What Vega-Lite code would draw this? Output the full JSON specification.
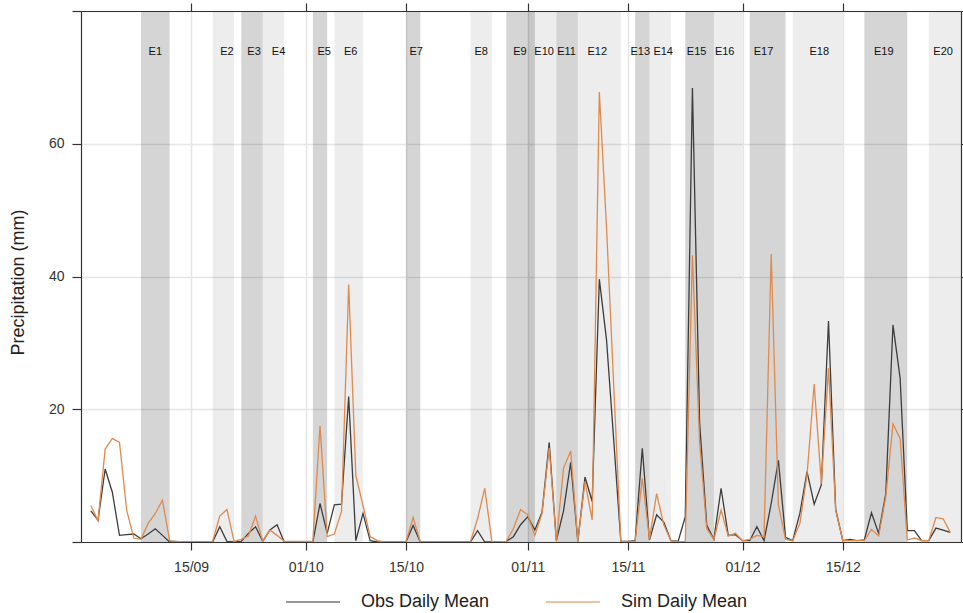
{
  "$schema": "https://vega.github.io/schema/vega-lite/v6.json",
  "width": 880,
  "height": 531,
  "autosize": {"type": "none"},
  "padding": {"left": 81, "top": 11, "right": 2, "bottom": 71},
  "config": {
    "view": {"stroke": null},
    "font": "Liberation Sans",
    "axis": {"domainColor": "#333333", "tickColor": "#333333", "labelColor": "#333333", "labelFont": "Liberation Sans", "titleFont": "Liberation Sans"}
  },
  "datasets": {
    "events": [
      {"event": "E1", "kind": "dark", "start": "2019-09-08", "end": "2019-09-12", "mid": "2019-09-10T00:00:00Z"},
      {"event": "E2", "kind": "light", "start": "2019-09-18", "end": "2019-09-21", "mid": "2019-09-20T00:00:00Z"},
      {"event": "E3", "kind": "dark", "start": "2019-09-22", "end": "2019-09-25", "mid": "2019-09-23T19:00:00Z"},
      {"event": "E4", "kind": "light", "start": "2019-09-25", "end": "2019-09-28", "mid": "2019-09-27T05:00:00Z"},
      {"event": "E5", "kind": "dark", "start": "2019-10-02", "end": "2019-10-04", "mid": "2019-10-03T14:00:00Z"},
      {"event": "E6", "kind": "light", "start": "2019-10-05", "end": "2019-10-09", "mid": "2019-10-07T07:00:00Z"},
      {"event": "E7", "kind": "dark", "start": "2019-10-15", "end": "2019-10-17", "mid": "2019-10-16T10:00:00Z"},
      {"event": "E8", "kind": "light", "start": "2019-10-24", "end": "2019-10-27", "mid": "2019-10-25T12:00:00Z"},
      {"event": "E9", "kind": "dark", "start": "2019-10-29", "end": "2019-11-02", "mid": "2019-10-30T22:00:00Z"},
      {"event": "E10", "kind": "light", "start": "2019-11-01", "end": "2019-11-05", "mid": "2019-11-03T07:00:00Z"},
      {"event": "E11", "kind": "dark", "start": "2019-11-05", "end": "2019-11-08", "mid": "2019-11-06T10:00:00Z"},
      {"event": "E12", "kind": "light", "start": "2019-11-08", "end": "2019-11-14", "mid": "2019-11-10T17:00:00Z"},
      {"event": "E13", "kind": "dark", "start": "2019-11-16", "end": "2019-11-18", "mid": "2019-11-16T17:00:00Z"},
      {"event": "E14", "kind": "light", "start": "2019-11-18", "end": "2019-11-21", "mid": "2019-11-19T22:00:00Z"},
      {"event": "E15", "kind": "dark", "start": "2019-11-23", "end": "2019-11-27", "mid": "2019-11-24T14:00:00Z"},
      {"event": "E16", "kind": "light", "start": "2019-11-27", "end": "2019-12-01", "mid": "2019-11-28T12:00:00Z"},
      {"event": "E17", "kind": "dark", "start": "2019-12-02", "end": "2019-12-07", "mid": "2019-12-03T22:00:00Z"},
      {"event": "E18", "kind": "light", "start": "2019-12-08", "end": "2019-12-15", "mid": "2019-12-11T17:00:00Z"},
      {"event": "E19", "kind": "dark", "start": "2019-12-18", "end": "2019-12-24", "mid": "2019-12-20T17:00:00Z"},
      {"event": "E20", "kind": "light", "start": "2019-12-27", "end": "2019-12-31T12:00:00Z", "mid": "2019-12-29T00:00:00Z"}
    ],
    "daily": [
      {"date": "2019-09-01", "obs": 4.7, "sim": 5.5},
      {"date": "2019-09-02", "obs": 3.3, "sim": 3.2},
      {"date": "2019-09-03", "obs": 11.0, "sim": 14.0},
      {"date": "2019-09-04", "obs": 7.5, "sim": 15.6},
      {"date": "2019-09-05", "obs": 1.0, "sim": 15.0},
      {"date": "2019-09-06", "obs": 1.1, "sim": 4.8},
      {"date": "2019-09-07", "obs": 1.2, "sim": 0.6},
      {"date": "2019-09-08", "obs": 0.5, "sim": 0.4},
      {"date": "2019-09-09", "obs": 1.2, "sim": 2.8},
      {"date": "2019-09-10", "obs": 2.0, "sim": 4.3},
      {"date": "2019-09-11", "obs": 1.0, "sim": 6.3},
      {"date": "2019-09-12", "obs": 0.0, "sim": 0.2},
      {"date": "2019-09-13", "obs": 0.0, "sim": 0.1},
      {"date": "2019-09-14", "obs": 0.0, "sim": 0.0},
      {"date": "2019-09-15", "obs": 0.0, "sim": 0.0},
      {"date": "2019-09-16", "obs": 0.0, "sim": 0.0},
      {"date": "2019-09-17", "obs": 0.0, "sim": 0.0},
      {"date": "2019-09-18", "obs": 0.0, "sim": 0.1},
      {"date": "2019-09-19", "obs": 2.3, "sim": 3.9},
      {"date": "2019-09-20", "obs": 0.1, "sim": 4.9},
      {"date": "2019-09-21", "obs": 0.0, "sim": 0.1},
      {"date": "2019-09-22", "obs": 0.1, "sim": 0.4},
      {"date": "2019-09-23", "obs": 1.3, "sim": 0.9},
      {"date": "2019-09-24", "obs": 2.3, "sim": 3.9},
      {"date": "2019-09-25", "obs": 0.1, "sim": 0.1},
      {"date": "2019-09-26", "obs": 1.8, "sim": 1.8},
      {"date": "2019-09-27", "obs": 2.6, "sim": 1.0},
      {"date": "2019-09-28", "obs": 0.0, "sim": 0.1},
      {"date": "2019-09-29", "obs": 0.0, "sim": 0.1},
      {"date": "2019-09-30", "obs": 0.0, "sim": 0.1},
      {"date": "2019-10-01", "obs": 0.0, "sim": 0.1},
      {"date": "2019-10-02", "obs": 0.0, "sim": 0.1},
      {"date": "2019-10-03", "obs": 5.8, "sim": 17.5},
      {"date": "2019-10-04", "obs": 1.3, "sim": 0.8},
      {"date": "2019-10-05", "obs": 5.6, "sim": 1.2},
      {"date": "2019-10-06", "obs": 5.7, "sim": 4.6},
      {"date": "2019-10-07", "obs": 21.9, "sim": 38.8},
      {"date": "2019-10-08", "obs": 0.2, "sim": 10.0},
      {"date": "2019-10-09", "obs": 4.3, "sim": 5.5},
      {"date": "2019-10-10", "obs": 0.2, "sim": 0.8},
      {"date": "2019-10-11", "obs": 0.0, "sim": 0.2},
      {"date": "2019-10-12", "obs": 0.0, "sim": 0.0},
      {"date": "2019-10-13", "obs": 0.0, "sim": 0.0},
      {"date": "2019-10-14", "obs": 0.0, "sim": 0.0},
      {"date": "2019-10-15", "obs": 0.0, "sim": 0.0},
      {"date": "2019-10-16", "obs": 2.5, "sim": 3.7},
      {"date": "2019-10-17", "obs": 0.0, "sim": 0.0},
      {"date": "2019-10-18", "obs": 0.0, "sim": 0.0},
      {"date": "2019-10-19", "obs": 0.0, "sim": 0.0},
      {"date": "2019-10-20", "obs": 0.0, "sim": 0.0},
      {"date": "2019-10-21", "obs": 0.0, "sim": 0.0},
      {"date": "2019-10-22", "obs": 0.0, "sim": 0.0},
      {"date": "2019-10-23", "obs": 0.0, "sim": 0.0},
      {"date": "2019-10-24", "obs": 0.0, "sim": 0.0},
      {"date": "2019-10-25", "obs": 1.7, "sim": 3.5},
      {"date": "2019-10-26", "obs": 0.0, "sim": 8.1},
      {"date": "2019-10-27", "obs": 0.0, "sim": 0.0},
      {"date": "2019-10-28", "obs": 0.0, "sim": 0.0},
      {"date": "2019-10-29", "obs": 0.1, "sim": 0.1},
      {"date": "2019-10-30", "obs": 0.8, "sim": 2.0},
      {"date": "2019-10-31", "obs": 2.6, "sim": 4.9},
      {"date": "2019-11-01", "obs": 3.8, "sim": 4.1},
      {"date": "2019-11-02", "obs": 1.8, "sim": 1.0},
      {"date": "2019-11-03", "obs": 4.5, "sim": 4.3},
      {"date": "2019-11-04", "obs": 15.0, "sim": 14.2},
      {"date": "2019-11-05", "obs": 0.2, "sim": 0.1},
      {"date": "2019-11-06", "obs": 4.7, "sim": 11.1},
      {"date": "2019-11-07", "obs": 12.0, "sim": 13.7},
      {"date": "2019-11-08", "obs": 0.1, "sim": 0.1},
      {"date": "2019-11-09", "obs": 9.8, "sim": 9.1},
      {"date": "2019-11-10", "obs": 6.1, "sim": 3.3},
      {"date": "2019-11-11", "obs": 39.6, "sim": 67.8},
      {"date": "2019-11-12", "obs": 30.5, "sim": 47.5},
      {"date": "2019-11-13", "obs": 15.5, "sim": 23.8},
      {"date": "2019-11-14", "obs": 0.1, "sim": 0.1},
      {"date": "2019-11-15", "obs": 0.1, "sim": 0.1},
      {"date": "2019-11-16", "obs": 0.2, "sim": 0.1},
      {"date": "2019-11-17", "obs": 14.1, "sim": 9.6},
      {"date": "2019-11-18", "obs": 0.3, "sim": 0.4},
      {"date": "2019-11-19", "obs": 4.1, "sim": 7.3},
      {"date": "2019-11-20", "obs": 3.0, "sim": 2.6},
      {"date": "2019-11-21", "obs": 0.2, "sim": 0.2},
      {"date": "2019-11-22", "obs": 0.1, "sim": 0.0},
      {"date": "2019-11-23", "obs": 3.8, "sim": 0.1},
      {"date": "2019-11-24", "obs": 68.4, "sim": 43.2},
      {"date": "2019-11-25", "obs": 18.0, "sim": 15.0},
      {"date": "2019-11-26", "obs": 2.5, "sim": 2.0},
      {"date": "2019-11-27", "obs": 0.4, "sim": 0.4},
      {"date": "2019-11-28", "obs": 8.1, "sim": 4.8},
      {"date": "2019-11-29", "obs": 1.0, "sim": 0.9},
      {"date": "2019-11-30", "obs": 1.1, "sim": 1.3},
      {"date": "2019-12-01", "obs": 0.2, "sim": 0.2},
      {"date": "2019-12-02", "obs": 0.2, "sim": 0.4},
      {"date": "2019-12-03", "obs": 2.3, "sim": 1.0},
      {"date": "2019-12-04", "obs": 0.2, "sim": 0.8},
      {"date": "2019-12-05", "obs": 5.8, "sim": 43.4},
      {"date": "2019-12-06", "obs": 12.3, "sim": 5.6},
      {"date": "2019-12-07", "obs": 0.7, "sim": 0.4},
      {"date": "2019-12-08", "obs": 0.2, "sim": 0.2},
      {"date": "2019-12-09", "obs": 4.3, "sim": 2.8},
      {"date": "2019-12-10", "obs": 10.6, "sim": 10.1},
      {"date": "2019-12-11", "obs": 5.7, "sim": 23.8},
      {"date": "2019-12-12", "obs": 8.6, "sim": 8.8},
      {"date": "2019-12-13", "obs": 33.3, "sim": 26.2},
      {"date": "2019-12-14", "obs": 4.9, "sim": 4.8},
      {"date": "2019-12-15", "obs": 0.2, "sim": 0.2},
      {"date": "2019-12-16", "obs": 0.4, "sim": 0.2},
      {"date": "2019-12-17", "obs": 0.2, "sim": 0.2},
      {"date": "2019-12-18", "obs": 0.3, "sim": 0.2},
      {"date": "2019-12-19", "obs": 4.4, "sim": 1.9},
      {"date": "2019-12-20", "obs": 1.3, "sim": 0.9},
      {"date": "2019-12-21", "obs": 7.3, "sim": 6.8},
      {"date": "2019-12-22", "obs": 32.7, "sim": 17.8},
      {"date": "2019-12-23", "obs": 24.7, "sim": 15.6},
      {"date": "2019-12-24", "obs": 1.7, "sim": 0.3},
      {"date": "2019-12-25", "obs": 1.7, "sim": 0.6},
      {"date": "2019-12-26", "obs": 0.2, "sim": 0.2},
      {"date": "2019-12-27", "obs": 0.2, "sim": 0.2},
      {"date": "2019-12-28", "obs": 2.1, "sim": 3.7},
      {"date": "2019-12-29", "obs": 1.8, "sim": 3.5},
      {"date": "2019-12-30", "obs": 1.45, "sim": 1.45}
    ]
  },
  "layer": [
    {
      "data": {"name": "events"},
      "mark": {"type": "rect", "clip": true},
      "encoding": {
        "x": {
          "field": "start", "type": "temporal",
          "scale": {"type": "utc", "domain": [{"year": 2019, "month": 8, "date": 30, "hours": 15, "utc": true}, {"year": 2019, "month": 12, "date": 31, "hours": 12, "utc": true}]},
          "axis": {
            "orient": "bottom", "title": null,
            "labelExpr": "utcFormat(datum.value, '%d/%m')",
            "values": [
              {"year": 2019, "month": 9, "date": 15, "utc": true},
              {"year": 2019, "month": 10, "date": 1, "utc": true},
              {"year": 2019, "month": 10, "date": 15, "utc": true},
              {"year": 2019, "month": 11, "date": 1, "utc": true},
              {"year": 2019, "month": 11, "date": 15, "utc": true},
              {"year": 2019, "month": 12, "date": 1, "utc": true},
              {"year": 2019, "month": 12, "date": 15, "utc": true}
            ],
            "labelFontSize": 14, "labelPadding": 10, "tickSize": 8, "tickWidth": 1.2, "domainWidth": 1.2,
            "grid": true, "gridColor": "#e6e6e6", "gridWidth": 1.5, "labelFlush": false
          }
        },
        "x2": {"field": "end"},
        "y": {
          "datum": 80, "type": "quantitative",
          "scale": {"domain": [0, 80], "nice": false},
          "axis": {
            "orient": "left", "values": [0, 20, 40, 60, 80],
            "labelExpr": "(datum.value == 0 || datum.value == 80) ? '' : datum.label",
            "labelFontSize": 14, "labelPadding": 8, "tickSize": 9, "tickWidth": 1.2, "domainWidth": 1.2,
            "grid": true, "gridColor": "#e6e6e6", "gridWidth": 1.5,
            "title": "Precipitation (mm)", "titleFontSize": 18, "titleFontWeight": "normal", "titleColor": "#222222",
            "titleX": -58, "titleY": 271, "titleAngle": -90, "titleAlign": "center", "titleBaseline": "alphabetic"
          }
        },
        "y2": {"datum": 0},
        "fill": {"value": "#000000"},
        "fillOpacity": {"field": "kind", "type": "nominal", "scale": {"domain": ["dark", "light"], "range": [0.165, 0.07]}, "legend": null}
      }
    },
    {
      "data": {"name": "daily"},
      "transform": [{"fold": ["obs", "sim"], "as": ["series", "value"]}],
      "mark": {"type": "line", "strokeWidth": 1.3, "clip": true},
      "encoding": {
        "x": {
          "field": "date", "type": "temporal",
          "scale": {"type": "utc", "domain": [{"year": 2019, "month": 8, "date": 30, "hours": 15, "utc": true}, {"year": 2019, "month": 12, "date": 31, "hours": 12, "utc": true}]},
          "axis": {
            "orient": "top", "title": null, "labels": false, "grid": false, "zindex": 1,
            "values": [
              {"year": 2019, "month": 9, "date": 15, "utc": true},
              {"year": 2019, "month": 10, "date": 1, "utc": true},
              {"year": 2019, "month": 10, "date": 15, "utc": true},
              {"year": 2019, "month": 11, "date": 1, "utc": true},
              {"year": 2019, "month": 11, "date": 15, "utc": true},
              {"year": 2019, "month": 12, "date": 1, "utc": true},
              {"year": 2019, "month": 12, "date": 15, "utc": true}
            ],
            "tickSize": 8, "tickWidth": 1.2, "domainWidth": 1.2
          }
        },
        "y": {
          "field": "value", "type": "quantitative",
          "scale": {"domain": [0, 80], "nice": false},
          "axis": {"orient": "right", "title": null, "labels": false, "grid": false, "zindex": 1, "values": [0, 20, 40, 60, 80], "tickSize": 8, "tickWidth": 1.2, "domainWidth": 1.2}
        },
        "color": {
          "field": "series", "type": "nominal",
          "scale": {"domain": ["obs", "sim"], "range": ["#3d3d3d", "#de8a4f"]},
          "legend": {
            "orient": "none", "legendX": 204, "legendY": 563, "direction": "horizontal", "title": null,
            "symbolType": "stroke", "symbolSize": 2900, "symbolStrokeWidth": 1.6, "symbolOpacity": 0.7,
            "labelFontSize": 18, "labelColor": "#222222", "labelOffset": 20, "columnPadding": 52, "padding": 0,
            "labelExpr": "datum.label == 'obs' ? 'Obs Daily Mean' : 'Sim Daily Mean'", "labelLimit": 300
          }
        }
      }
    },
    {
      "data": {"name": "events"},
      "mark": {"type": "text", "fontSize": 11, "color": "#111111", "baseline": "middle", "align": "center"},
      "encoding": {
        "x": {"field": "mid", "type": "temporal", "scale": {"type": "utc", "domain": [{"year": 2019, "month": 8, "date": 30, "hours": 15, "utc": true}, {"year": 2019, "month": 12, "date": 31, "hours": 12, "utc": true}]}, "axis": null},
        "y": {"datum": 73.8, "type": "quantitative", "scale": {"domain": [0, 80], "nice": false}, "axis": null},
        "text": {"field": "event"}
      }
    }
  ],
  "resolve": {"axis": {"x": "independent", "y": "independent"}}
}
